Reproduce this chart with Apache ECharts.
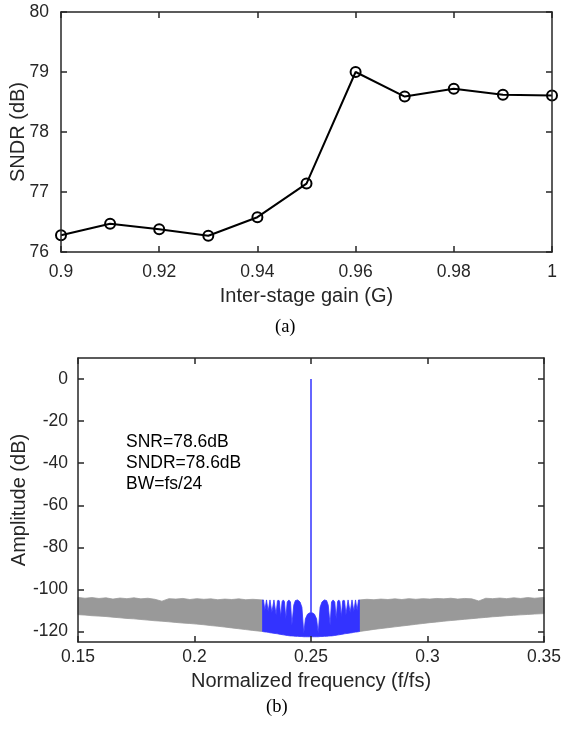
<!DOCTYPE html>
<html>
<head>
<meta charset="utf-8">
<script src="https://cdn.jsdelivr.net/npm/echarts@6/dist/echarts.min.js"></script>
<style>
html,body{margin:0;padding:0;background:#fff;}
#chart{width:561px;height:730px;}
</style>
</head>
<body>
<div id="chart"></div>
<script>
// ---------- (a) SNDR vs inter-stage gain ----------
const gainValues = [0.90, 0.91, 0.92, 0.93, 0.94, 0.95, 0.96, 0.97, 0.98, 0.99, 1.00];
const sndrValues = [76.28, 76.47, 76.38, 76.27, 76.58, 77.14, 79.00, 78.59, 78.72, 78.62, 78.61];

// ---------- (b) output spectrum ----------
const ampTickValues = [-120, -100, -80, -60, -40, -20, 0];

// out-of-band noise (gray), left side
const grayLeftFreq  = [0.150, 0.153, 0.156, 0.159, 0.162, 0.165, 0.168, 0.171, 0.174, 0.177, 0.180, 0.183, 0.186, 0.189, 0.192, 0.195, 0.198, 0.201, 0.204, 0.207, 0.210, 0.213, 0.216, 0.219, 0.222, 0.225, 0.2292];
const grayLeftUpper = [-103.8, -104.2, -103.9, -104.3, -104.0, -104.6, -104.1, -104.4, -104.0, -104.5, -104.2, -104.7, -105.6, -104.4, -104.6, -104.3, -104.8, -104.4, -104.7, -104.5, -104.9, -104.6, -104.8, -104.5, -104.9, -104.7, -105.0];
const grayLeftLower = [-112.0, -112.2, -112.5, -112.7, -112.9, -113.2, -113.5, -113.8, -114.0, -114.3, -114.6, -114.9, -115.1, -115.4, -115.7, -116.0, -116.2, -116.5, -116.8, -117.2, -117.5, -117.9, -118.3, -118.7, -119.1, -119.5, -120.0];

// out-of-band noise (gray), right side
const grayRightFreq  = [0.2708, 0.274, 0.277, 0.280, 0.283, 0.286, 0.289, 0.292, 0.295, 0.298, 0.301, 0.304, 0.307, 0.310, 0.313, 0.316, 0.319, 0.322, 0.325, 0.328, 0.331, 0.334, 0.337, 0.340, 0.343, 0.346, 0.350];
const grayRightUpper = [-105.0, -104.7, -104.9, -104.6, -104.8, -104.5, -104.8, -104.4, -104.7, -104.4, -104.6, -104.3, -104.5, -104.2, -104.6, -104.3, -104.5, -105.5, -104.2, -104.4, -104.1, -104.4, -104.0, -104.3, -103.9, -104.2, -103.8];
const grayRightLower = [-120.0, -119.5, -119.0, -118.6, -118.2, -117.8, -117.4, -117.0, -116.6, -116.2, -115.8, -115.5, -115.1, -114.8, -114.5, -114.2, -113.9, -113.6, -113.3, -113.0, -112.8, -112.5, -112.3, -112.1, -111.9, -111.7, -111.5];

// in-band noise (blue), fs/4 +/- fs/48
const blueFreq  = [0.2292, 0.2296, 0.2302, 0.2309, 0.2316, 0.2324, 0.2332, 0.2341, 0.2350, 0.2356, 0.2360, 0.2364, 0.2370, 0.2376, 0.2381, 0.2386, 0.2392, 0.2398, 0.2405, 0.2412, 0.2418, 0.2426, 0.2433, 0.2443, 0.2453, 0.2461, 0.2469, 0.2476, 0.2485, 0.2493, 0.2500,
                   0.2507, 0.2515, 0.2524, 0.2531, 0.2539, 0.2547, 0.2557, 0.2567, 0.2574, 0.2582, 0.2588, 0.2595, 0.2602, 0.2608, 0.2614, 0.2619, 0.2624, 0.2630, 0.2636, 0.2640, 0.2644, 0.2650, 0.2659, 0.2668, 0.2676, 0.2684, 0.2691, 0.2698, 0.2704, 0.2708];
const blueUpper = [-105.0, -105.0, -110.0, -105.0, -110.5, -105.0, -111.0, -105.0, -112.0, -105.5, -105.0, -105.5, -113.0, -105.8, -105.0, -105.8, -114.0, -106.0, -105.0, -106.0, -117.0, -107.5, -105.3, -105.0, -106.0, -108.5, -121.0, -114.0, -111.8, -111.2, -111.0,
                   -111.2, -111.8, -114.0, -121.0, -108.5, -106.0, -105.0, -105.3, -107.5, -117.0, -106.0, -105.0, -106.0, -114.0, -105.8, -105.0, -105.8, -113.0, -105.5, -105.0, -105.5, -112.0, -105.0, -111.0, -105.0, -110.5, -105.0, -110.0, -105.0, -105.0];
const blueLower = [-120.0, -120.1, -120.2, -120.3, -120.4, -120.6, -120.7, -120.9, -121.0, -121.1, -121.2, -121.3, -121.4, -121.5, -121.6, -121.7, -121.8, -121.9, -122.0, -122.1, -122.1, -122.2, -122.3, -122.3, -122.4, -122.4, -122.5, -122.5, -122.5, -122.5, -122.5,
                   -122.5, -122.5, -122.5, -122.5, -122.4, -122.4, -122.3, -122.3, -122.2, -122.1, -122.1, -122.0, -121.9, -121.8, -121.7, -121.6, -121.5, -121.4, -121.3, -121.2, -121.1, -121.0, -120.9, -120.7, -120.6, -120.4, -120.3, -120.2, -120.1, -120.0];

// signal tone
const toneFreq = 0.25;
const toneAmp = 0;
const toneBase = -111.0;

const annotationLines = ['SNR=78.6dB', 'SNDR=78.6dB', 'BW=fs/24'];

// ---------- styles ----------
const AX = '#262626';
const GRAY = '#999999';
const BLUE = '#3333ff';
const FONT = '"Liberation Sans", Arial, Helvetica, sans-serif';
const SERIF = '"Liberation Serif", "Times New Roman", serif';
const TICK_FS = 17.5;
const NAME_FS = 20;

function mkAxis(o) {
  const base = {
    type: 'value',
    axisLine: { show: true, onZero: false, lineStyle: { color: AX, width: 1.5 } },
    axisTick: { show: true, inside: true, length: 6, lineStyle: { color: AX, width: 1.5 } },
    axisLabel: { show: true, color: AX, fontFamily: FONT, fontSize: TICK_FS },
    splitLine: { show: false },
    nameTextStyle: { color: AX, fontFamily: FONT, fontSize: NAME_FS },
    nameLocation: 'middle',
    nameMoveOverlap: false,
    z: 5
  };
  const r = Object.assign({}, base, o);
  if (o.axisLabel) r.axisLabel = Object.assign({}, base.axisLabel, o.axisLabel);
  if (o.axisTick) r.axisTick = Object.assign({}, base.axisTick, o.axisTick);
  return r;
}

// filled band between a lower and an upper envelope, mapped through the axes
function band(freq, upper, lower, color, xi, yi) {
  return {
    type: 'custom', xAxisIndex: xi, yAxisIndex: yi, silent: true, z: 2,
    data: freq.map((f, i) => [f, upper[i], lower[i]]),
    encode: { x: 0, y: [1, 2] },
    renderItem: function (params, api) {
      if (params.dataIndex !== 0) return null;
      const pts = [];
      for (let i = 0; i < freq.length; i++) pts.push(api.coord([freq[i], upper[i]]));
      for (let i = freq.length - 1; i >= 0; i--) pts.push(api.coord([freq[i], lower[i]]));
      return { type: 'polygon', shape: { points: pts }, style: { fill: color, stroke: color, lineWidth: 0.8 } };
    }
  };
}

const chart = echarts.init(document.getElementById('chart'), null, { renderer: 'canvas' });

const option = {
  animation: false,
  backgroundColor: '#ffffff',
  grid: [
    { left: 61, right: 9, top: 12, height: 240, containLabel: false, outerBoundsMode: 'none' },
    { left: 78, right: 17, top: 358, height: 284, containLabel: false, outerBoundsMode: 'none' }
  ],
  xAxis: [
    mkAxis({ gridIndex: 0, min: 0.9, max: 1.0, interval: 0.02, name: 'Inter-stage gain (G)', nameGap: 34,
             axisLabel: { margin: 11 } }),
    mkAxis({ gridIndex: 0, position: 'top', min: 0.9, max: 1.0, interval: 0.02, axisLabel: { show: false } }),
    mkAxis({ gridIndex: 1, min: 0.15, max: 0.35, interval: 0.05, name: 'Normalized frequency (f/fs)', nameGap: 29,
             axisLabel: { margin: 6 } }),
    mkAxis({ gridIndex: 1, position: 'top', min: 0.15, max: 0.35, interval: 0.05, axisLabel: { show: false } })
  ],
  yAxis: [
    mkAxis({ gridIndex: 0, min: 76, max: 80, interval: 1, name: 'SNDR (dB)', nameGap: 33,
             axisLabel: { margin: 12 } }),
    mkAxis({ gridIndex: 0, position: 'right', min: 76, max: 80, interval: 1, axisLabel: { show: false } }),
    mkAxis({ gridIndex: 1, min: -125, max: 10, splitNumber: 7, name: 'Amplitude (dB)', nameGap: 49,
             axisLabel: { margin: 10, customValues: ampTickValues },
             axisTick: { customValues: ampTickValues } }),
    mkAxis({ gridIndex: 1, position: 'right', min: -125, max: 10, splitNumber: 7, axisLabel: { show: false },
             axisTick: { customValues: ampTickValues } })
  ],
  graphic: [
    { type: 'text', left: 275, top: 318, style: { text: '(a)', font: '18.5px ' + SERIF, fill: '#000' } },
    { type: 'text', left: 266, top: 698, style: { text: '(b)', font: '18.5px ' + SERIF, fill: '#000' } },
    { type: 'text', left: 126, top: 432, style: { text: annotationLines.join('\n'), font: TICK_FS + 'px ' + FONT, lineHeight: 21, fill: '#000' } }
  ],
  series: [
    {
      type: 'line', xAxisIndex: 0, yAxisIndex: 0,
      data: gainValues.map((g, i) => [g, sndrValues[i]]),
      symbol: 'circle', symbolSize: 10, showSymbol: true,
      lineStyle: { color: '#000', width: 2 },
      itemStyle: { color: 'rgba(0,0,0,0)', borderColor: '#000', borderWidth: 2 },
      z: 3
    },
    band(grayLeftFreq, grayLeftUpper, grayLeftLower, GRAY, 2, 2),
    band(grayRightFreq, grayRightUpper, grayRightLower, GRAY, 2, 2),
    band(blueFreq, blueUpper, blueLower, BLUE, 2, 2),
    {
      type: 'line', xAxisIndex: 2, yAxisIndex: 2,
      data: [[toneFreq, toneBase], [toneFreq, toneAmp]],
      symbol: 'none', lineStyle: { color: BLUE, width: 1.5 }, z: 4, silent: true
    }
  ]
};
chart.setOption(option);
</script>
</body>
</html>
